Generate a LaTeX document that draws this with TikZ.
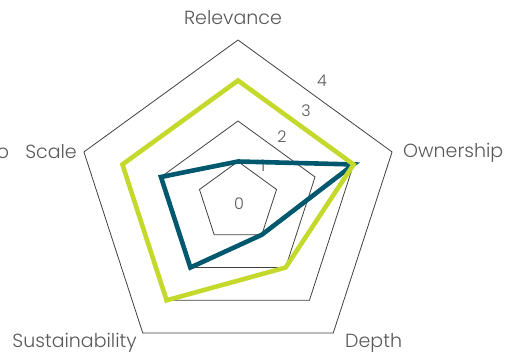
\documentclass[tikz,border=0pt]{standalone}
\usepackage{fontspec}
\setmainfont{Poppins Light}
\usetikzlibrary{positioning}
\definecolor{limegreen}{HTML}{C5D92D}
\definecolor{petrol}{HTML}{00586F}
\definecolor{labelgray}{HTML}{595959}

\begin{document}
\begin{tikzpicture}[x=1pt, y=1pt,
    gridline/.style = {draw=black!75, line width=0.8pt},
    series/.style = {line width=4.6pt, line join=miter},
    axislabel/.style = {text=labelgray, font=\fontsize{19}{19}\selectfont, inner sep=0pt},
    ticklabel/.style = {text=labelgray, font=\fontsize{16}{16}\selectfont, inner sep=0pt, anchor=base}]
            \pgfmathsetmacro{\levelR}{40.5}
            \useasboundingbox (-238,-151) rectangle (275,202);

            % Grid
            \foreach \lvl in {1,...,4}{
                \draw [gridline] (90:{\lvl*\levelR}) -- (18:{\lvl*\levelR}) -- (-54:{\lvl*\levelR})
                    -- (-126:{\lvl*\levelR}) -- (162:{\lvl*\levelR}) -- cycle;
            }

            % Axis ends
            \coordinate (relevanceEnd) at (90:{4*\levelR});
            \coordinate (ownershipEnd) at (18:{4*\levelR});
            \coordinate (depthEnd) at (-54:{4*\levelR});
            \coordinate (sustainEnd) at (-126:{4*\levelR});
            \coordinate (scaleEnd) at (162:{4*\levelR});

            % Tick labels
            \node [ticklabel] (tick0) at (1,-8) {0};
            \node [ticklabel] (tick1) at (25,30) {1};
            \node [ticklabel] (tick2) at (44,59) {2};
            \node [ticklabel] (tick3) at (68,85) {3};
            \node [ticklabel] (tick4) at (84,115) {4};

            % Axis labels
            \node [axislabel, anchor=base] (relevance) at (-5,177) {Relevance};
            \node [axislabel, anchor=base west] (ownership) at (165,44) {Ownership};
            \node [axislabel, anchor=base west] (depth) at (107,-145) {Depth};
            \node [axislabel, anchor=base east] (sustain) at (-101,-145) {Sustainability};
            \node [axislabel, anchor=base east] (scale) at (-161,43) {o\hspace{0.85em}Scale};

            % Blue series
            \coordinate (b1) at (90:{1*\levelR});
            \coordinate (b2) at (18:{3*\levelR});
            \coordinate (b3) at (-54:{1*\levelR});
            \coordinate (b4) at (-126:{2*\levelR});
            \coordinate (b5) at (162:{2*\levelR});
            \draw [series, petrol] (b1) -- (b2) -- (b3) -- (b4) -- (b5) -- cycle;

            % Green series
            \coordinate (g1) at (90:{3*\levelR});
            \coordinate (g2) at (18:{3*\levelR});
            \coordinate (g3) at (-54:{2*\levelR});
            \coordinate (g4) at (-126:{3*\levelR});
            \coordinate (g5) at (162:{3*\levelR});
            \draw [series, limegreen] (g1) -- (g2) -- (g3) -- (g4) -- (g5) -- cycle;
        \end{tikzpicture}
\end{document}
